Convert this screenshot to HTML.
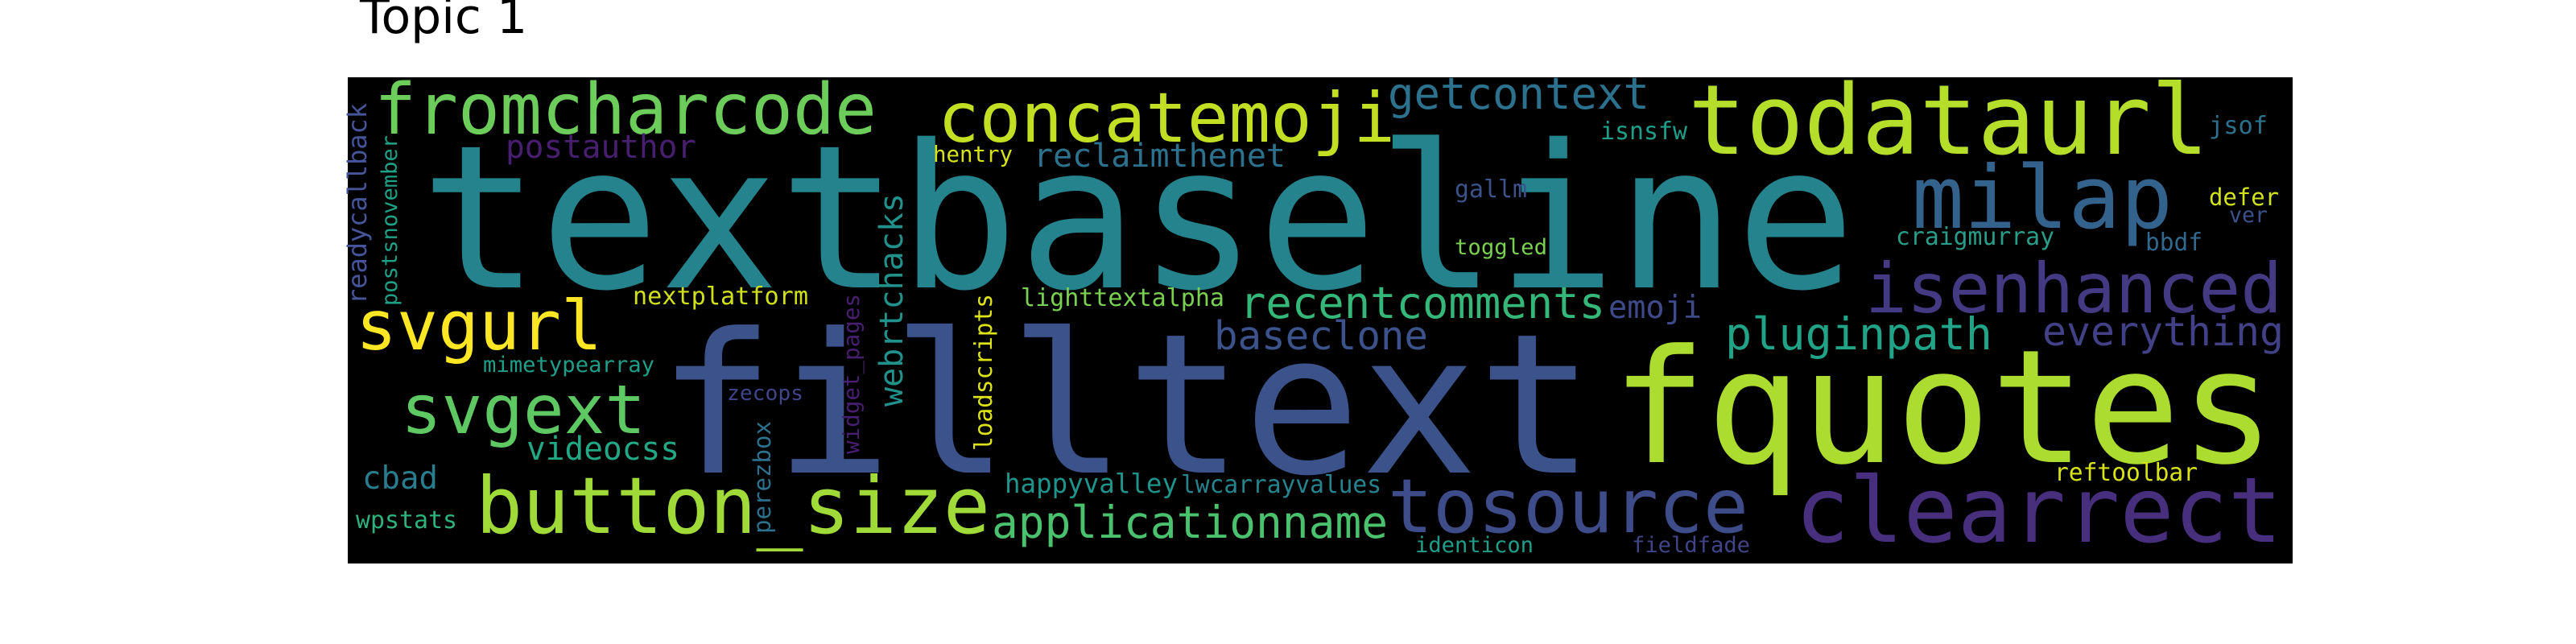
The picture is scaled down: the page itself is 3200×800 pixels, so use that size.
<!DOCTYPE html>
<html><head><meta charset="utf-8"><style>
html,body{margin:0;padding:0;background:#fff;width:3200px;height:800px;overflow:hidden}
svg{display:block}
</style></head><body>
<svg id="chart" width="3200" height="800" viewBox="0 0 3200 800" xmlns="http://www.w3.org/2000/svg">
<text x="447" y="41" font-family="DejaVu Sans, Liberation Sans, sans-serif" font-size="60" fill="#000">Topic 1</text>
<rect x="432" y="96" width="2416" height="604" fill="#000"/>
<g id="words"></g>
</svg>
<script>
const words = ["textbaseline","filltext","fquotes","todataurl","milap","isenhanced","clearrect","tosource","button_size","fromcharcode","concatemoji","svgurl","svgext","applicationname","pluginpath","recentcomments","getcontext","everything","baseclone","reclaimthenet","postauthor","emoji","videocss","cbad","happyvalley","lwcarrayvalues","nextplatform","lighttextalpha","mimetypearray","hentry","zecops","isnsfw","jsof","gallm","defer","ver","craigmurray","bbdf","toggled","reftoolbar","identicon","fieldfade","wpstats","readycallback","postsnovember","widget_pages","webrtchacks","loadscripts","perezbox"];
const sizes = [248,242,196,120,108,86,112,93,97,87,86,85,84,55,55,54,54,50,49,40,40,39,40,39,33,30,30,30,27,28,26,30,30,30,29,27,30,30,27,30,27,27,30,32,27,28,40,30,29];
const colors = ["#25838e","#3b528b","#addc30","#b5de2b","#33638d","#443a83","#472f7d","#3e4c8a","#a0da39","#6ccd5a","#c2df23","#fde725","#5ec962","#4ac16d","#20a386","#35b779","#2c728e","#424086","#3b528b","#2c728e","#481f70","#3e4a89","#22a884","#287d8e","#1f948c","#25848e","#d0e11c","#7ad151","#1f9e89","#d8e219","#414487","#1f9e89","#2c728e","#3b528b","#d2e21b","#3b528b","#2a9d8a","#31688e","#7ad151","#d8e219","#1f9e89","#414487","#2db27d","#46549a","#1fa187","#481f70","#21918c","#dde318","#2c728e"];
// layout: anchor x, anchor y (baseline), rendered length, rotation
const layoutX = [522,817,2002,2097,2375,2317,2230,1724,591,465,1165,442,498,1232,2143,1540,1724,2537,1508,1284,628,1998,654,450,1248,1467,786,1268,600,1159,903,1988,2744,1807,2744,2769,2355,2665,1807,2552,1758,2027,442,455,493,1067,1121,1232,957];
const layoutY = [357,587,574,191,283,388,673,661,662,166,176,434,538,668,434,395,135,429,434,207,196,395,571,607,612,612,378,380,462,201,497,173,166,245,255,276,304,311,316,597,686,686,656,378,380,564,505,560,663];
const layoutLen = [1783,1164,824,647,324,518,605,448,639,624,568,306,304,492,332,454,325,300,266,313,237,116,190,94,215,249,218,253,213,99,95,108,73,90,87,48,197,71,115,178,147,147,126,250,212,199,265,195,140];
const layoutRot = [0,0,0,0,0,0,0,0,0,0,0,0,0,0,0,0,0,0,0,0,0,0,0,0,0,0,0,0,0,0,0,0,0,0,0,0,0,0,0,0,0,0,0,-90,-90,-90,-90,-90,-90];

const g = document.getElementById('words');
const NS = 'http://www.w3.org/2000/svg';
for (let i = 0; i < words.length; i++) {
  const t = document.createElementNS(NS, 'text');
  
  
  t.setAttribute('x', 0);
  t.setAttribute('y', 0);
  t.setAttribute('transform', 'translate(' + layoutX[i] + ',' + layoutY[i] + ') rotate(' + layoutRot[i] + ')');
  t.setAttribute('font-family', '"DejaVu Sans Mono", "Liberation Mono", monospace');
  t.setAttribute('font-size', sizes[i]);
  t.setAttribute('fill', colors[i]);
  t.setAttribute('textLength', layoutLen[i]);
  t.setAttribute('lengthAdjust', 'spacingAndGlyphs');
  t.textContent = words[i];
  g.appendChild(t);
}
</script>
</body></html>
